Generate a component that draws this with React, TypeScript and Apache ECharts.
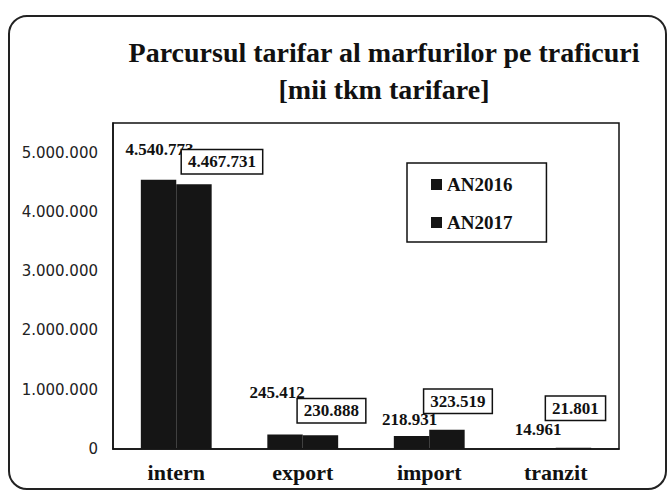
import React, { useEffect, useRef } from "react";
import * as echarts from "echarts";

const categories = ["intern", "export", "import", "tranzit"];
const seriesNames = ["AN2016", "AN2017"];
const values2016 = [4540773, 245412, 218931, 14961];
const values2017 = [4467731, 230888, 323519, 21801];
const yTicks = [0, 1000000, 2000000, 3000000, 4000000, 5000000];

// label offsets (style only)
const offsets2016 = [[1, -17], [-8, -28], [-2, -3], [0, -5]];
const offsets2017 = [[28, -6], [11, -8], [11, -12], [2, -23]];

const fmt = (v: number) => String(v).replace(/\B(?=(\d{3})+(?!\d))/g, ".");

const SERIF = "'Liberation Serif', 'Times New Roman', serif";

export default function App() {
  const ref = useRef<HTMLDivElement>(null);
  useEffect(() => {
    if (!ref.current) return;
    const chart = echarts.init(ref.current, undefined, { renderer: "svg" });
    const barColor = "#151515";
    chart.setOption({
      animation: false,
      backgroundColor: "#ffffff",
      title: {
        text: "Parcursul tarifar al marfurilor pe traficuri\n[mii tkm tarifare]",
        left: 379,
        top: 29,
        textAlign: "center",
        textStyle: {
          fontFamily: SERIF,
          fontWeight: "bold",
          fontSize: 28,
          lineHeight: 37,
          color: "#111",
        },
      },
      legend: {
        data: seriesNames,
        orient: "vertical",
        left: 407,
        top: 163,
        padding: [12, 34, 10, 24],
        itemGap: 19,
        itemWidth: 11,
        itemHeight: 11,
        icon: "rect",
        borderColor: "#111",
        borderWidth: 1.5,
        textStyle: {
          fontFamily: SERIF,
          fontWeight: "bold",
          fontSize: 19,
          color: "#111",
        },
      },
      grid: {
        left: 113,
        right: 52,
        top: 123,
        bottom: 46,
        show: true,
        borderColor: "#111",
        borderWidth: 1.5,
        backgroundColor: "#fff",
      },
      xAxis: {
        type: "category",
        data: categories,
        axisLine: { show: true, lineStyle: { color: "#111", width: 1.5 } },
        axisTick: { show: false },
        axisLabel: {
          margin: 12,
          fontFamily: SERIF,
          fontWeight: "bold",
          fontSize: 22,
          color: "#111",
        },
      },
      yAxis: {
        type: "value",
        min: yTicks[0],
        max: 5500000,
        interval: 1000000,
        axisLine: { show: true, lineStyle: { color: "#111", width: 1.5 } },
        axisTick: { show: false },
        splitLine: { show: false },
        axisLabel: {
          showMaxLabel: false,
          margin: 15,
          fontFamily: "'DejaVu Sans', Verdana, sans-serif",
          fontSize: 15,
          color: "#222",
          formatter: (v: number) => (yTicks.includes(v) ? fmt(v) : ""),
        },
      },
      series: [
        {
          name: seriesNames[0],
          type: "bar",
          barGap: "0%",
          barCategoryGap: "44%",
          itemStyle: { color: barColor },
          data: values2016.map((v, i) => ({
            value: v,
            label: { offset: offsets2016[i] },
          })),
          label: {
            show: true,
            position: "top",
            fontFamily: SERIF,
            fontWeight: "bold",
            fontSize: 17,
            color: "#111",
            formatter: (p: any) => fmt(p.value),
          },
        },
        {
          name: seriesNames[1],
          type: "bar",
          barGap: "0%",
          barCategoryGap: "44%",
          itemStyle: { color: barColor },
          data: values2017.map((v, i) => ({
            value: v,
            label: { offset: offsets2017[i] },
          })),
          label: {
            show: true,
            position: "top",
            fontFamily: SERIF,
            fontWeight: "bold",
            fontSize: 17,
            color: "#111",
            backgroundColor: "#fff",
            borderColor: "#111",
            borderWidth: 1.5,
            padding: [3, 6],
            formatter: (p: any) => fmt(p.value),
          },
        },
      ],
      graphic: [
        {
          type: "rect",
          z: 100,
          silent: true,
          shape: { x: 9, y: 16, width: 657, height: 473, r: 18 },
          style: { fill: "none", stroke: "#222", lineWidth: 2 },
        },
      ],
    });
    return () => chart.dispose();
  }, []);
  return (
    <div
      ref={ref}
      style={{ position: "absolute", left: 0, top: 0, width: 671, height: 495 }}
    />
  );
}
